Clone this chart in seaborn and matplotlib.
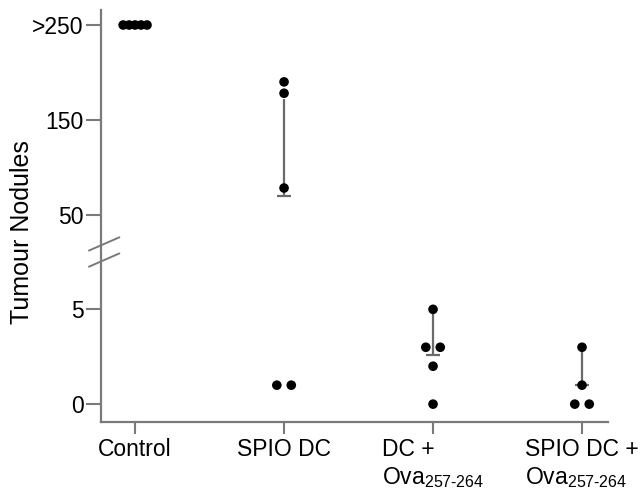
import numpy as np
import pandas as pd
import seaborn as sns
import matplotlib.pyplot as plt

# values (Control is ">250")
groups = ['Control', 'SPIO DC', 'DC + Ova', 'SPIO DC + Ova']
control = [250, 250, 250, 250, 250]
spio_dc = [190, 178, 78, 1, 1]
dc_ova = [5, 3, 3, 2, 0]
spio_dc_ova = [3, 1, 0, 0]
# bar from low (capped) up to high
bar_low = [np.nan, 70, 2.6, 1]
bar_high = [np.nan, 172, 5, 3]

y_ticks = [0, 5, 50, 150, 250]
y_ticklabels = ['0', '5', '50', '150', '>250']
x_ticklabels = ['Control', 'SPIO DC',
                'DC +\nOva$_{257\\text{-}264}$',
                'SPIO DC +\nOva$_{257\\text{-}264}$']

sns.set_style('ticks')
plt.rcParams['font.family'] = ['Liberation Sans', 'DejaVu Sans']
plt.rcParams['mathtext.fontset'] = 'custom'
plt.rcParams['mathtext.rm'] = 'Liberation Sans'
plt.rcParams['mathtext.it'] = 'Liberation Sans:italic'
plt.rcParams['text.color'] = 'black'
plt.rcParams['axes.labelcolor'] = 'black'

#spread tied values side by side
rows = []
for i, vals in enumerate([control, spio_dc, dc_ova, spio_dc_ova]):
    spread = 0.04 if i == 0 else 0.097
    vals = np.array(vals, dtype=float)
    for v in np.unique(vals):
        n = (vals == v).sum()
        for k in range(n):
            rows.append({'group': groups[i], 'x': i + (k - (n - 1) / 2) * spread, 'value': v})
df = pd.DataFrame(rows)


# broken axis: 0-5 and 50-250 linear, squeezed in between
def fwd(v):
    v = np.asarray(v, dtype=float)
    return np.where(v <= 5, v / 5, np.where(v < 50, 1 + (v - 5) / 45, 2 + (v - 50) / 100))


def inv(t):
    t = np.asarray(t, dtype=float)
    return np.where(t <= 1, 5 * t, np.where(t < 2, 5 + 45 * (t - 1), 50 + 100 * (t - 2)))


gray = '#7a7a7a'
fig = plt.figure(figsize=(6.44, 4.92), dpi=100)
ax = fig.add_axes([0.157, 0.142, 0.787, 0.838])
ax.set_yscale('function', functions=(fwd, inv))

sns.scatterplot(data=df, x='x', y='value', color='black', s=48, edgecolor='none',
                zorder=3, ax=ax, legend=False)

xs = np.arange(len(groups))
ax.vlines(xs, bar_low, bar_high, color='#6a6a6a', lw=1.6, zorder=2)
ax.hlines(bar_low, xs - 0.047, xs + 0.047, color='#6a6a6a', lw=1.6, zorder=2)

ax.set_xlim(-0.228, 3.174)
ax.set_ylim(-0.95, 266)
ax.set_xticks(xs)
ax.set_xticklabels(x_ticklabels, fontsize=16.5)
for lbl in ax.get_xticklabels():
    lbl.set_multialignment('left')
ax.set_yticks(y_ticks)
ax.set_yticklabels(y_ticklabels, fontsize=16.5)
ax.minorticks_off()
ax.set_xlabel('')
ax.set_ylabel('Tumour Nodules', fontsize=18, color='black')
ax.yaxis.set_label_coords(-0.133, 0.462)

sns.despine(ax=ax)
for s in ['left', 'bottom']:
    ax.spines[s].set_color(gray)
    ax.spines[s].set_linewidth(1.6)
ax.tick_params(axis='y', length=10.5, width=1.5, color=gray, labelcolor='black', pad=2)
ax.tick_params(axis='x', length=8.5, width=1.5, color=gray, labelcolor='black', pad=3)

# axis break marks
for tc in [1.69, 1.52]:
    ax.plot([-0.024, 0.036], inv([tc - 0.07, tc + 0.07]), color=gray, lw=1.4,
            transform=ax.get_yaxis_transform(), clip_on=False)

fig.savefig('out.png', dpi=100)
